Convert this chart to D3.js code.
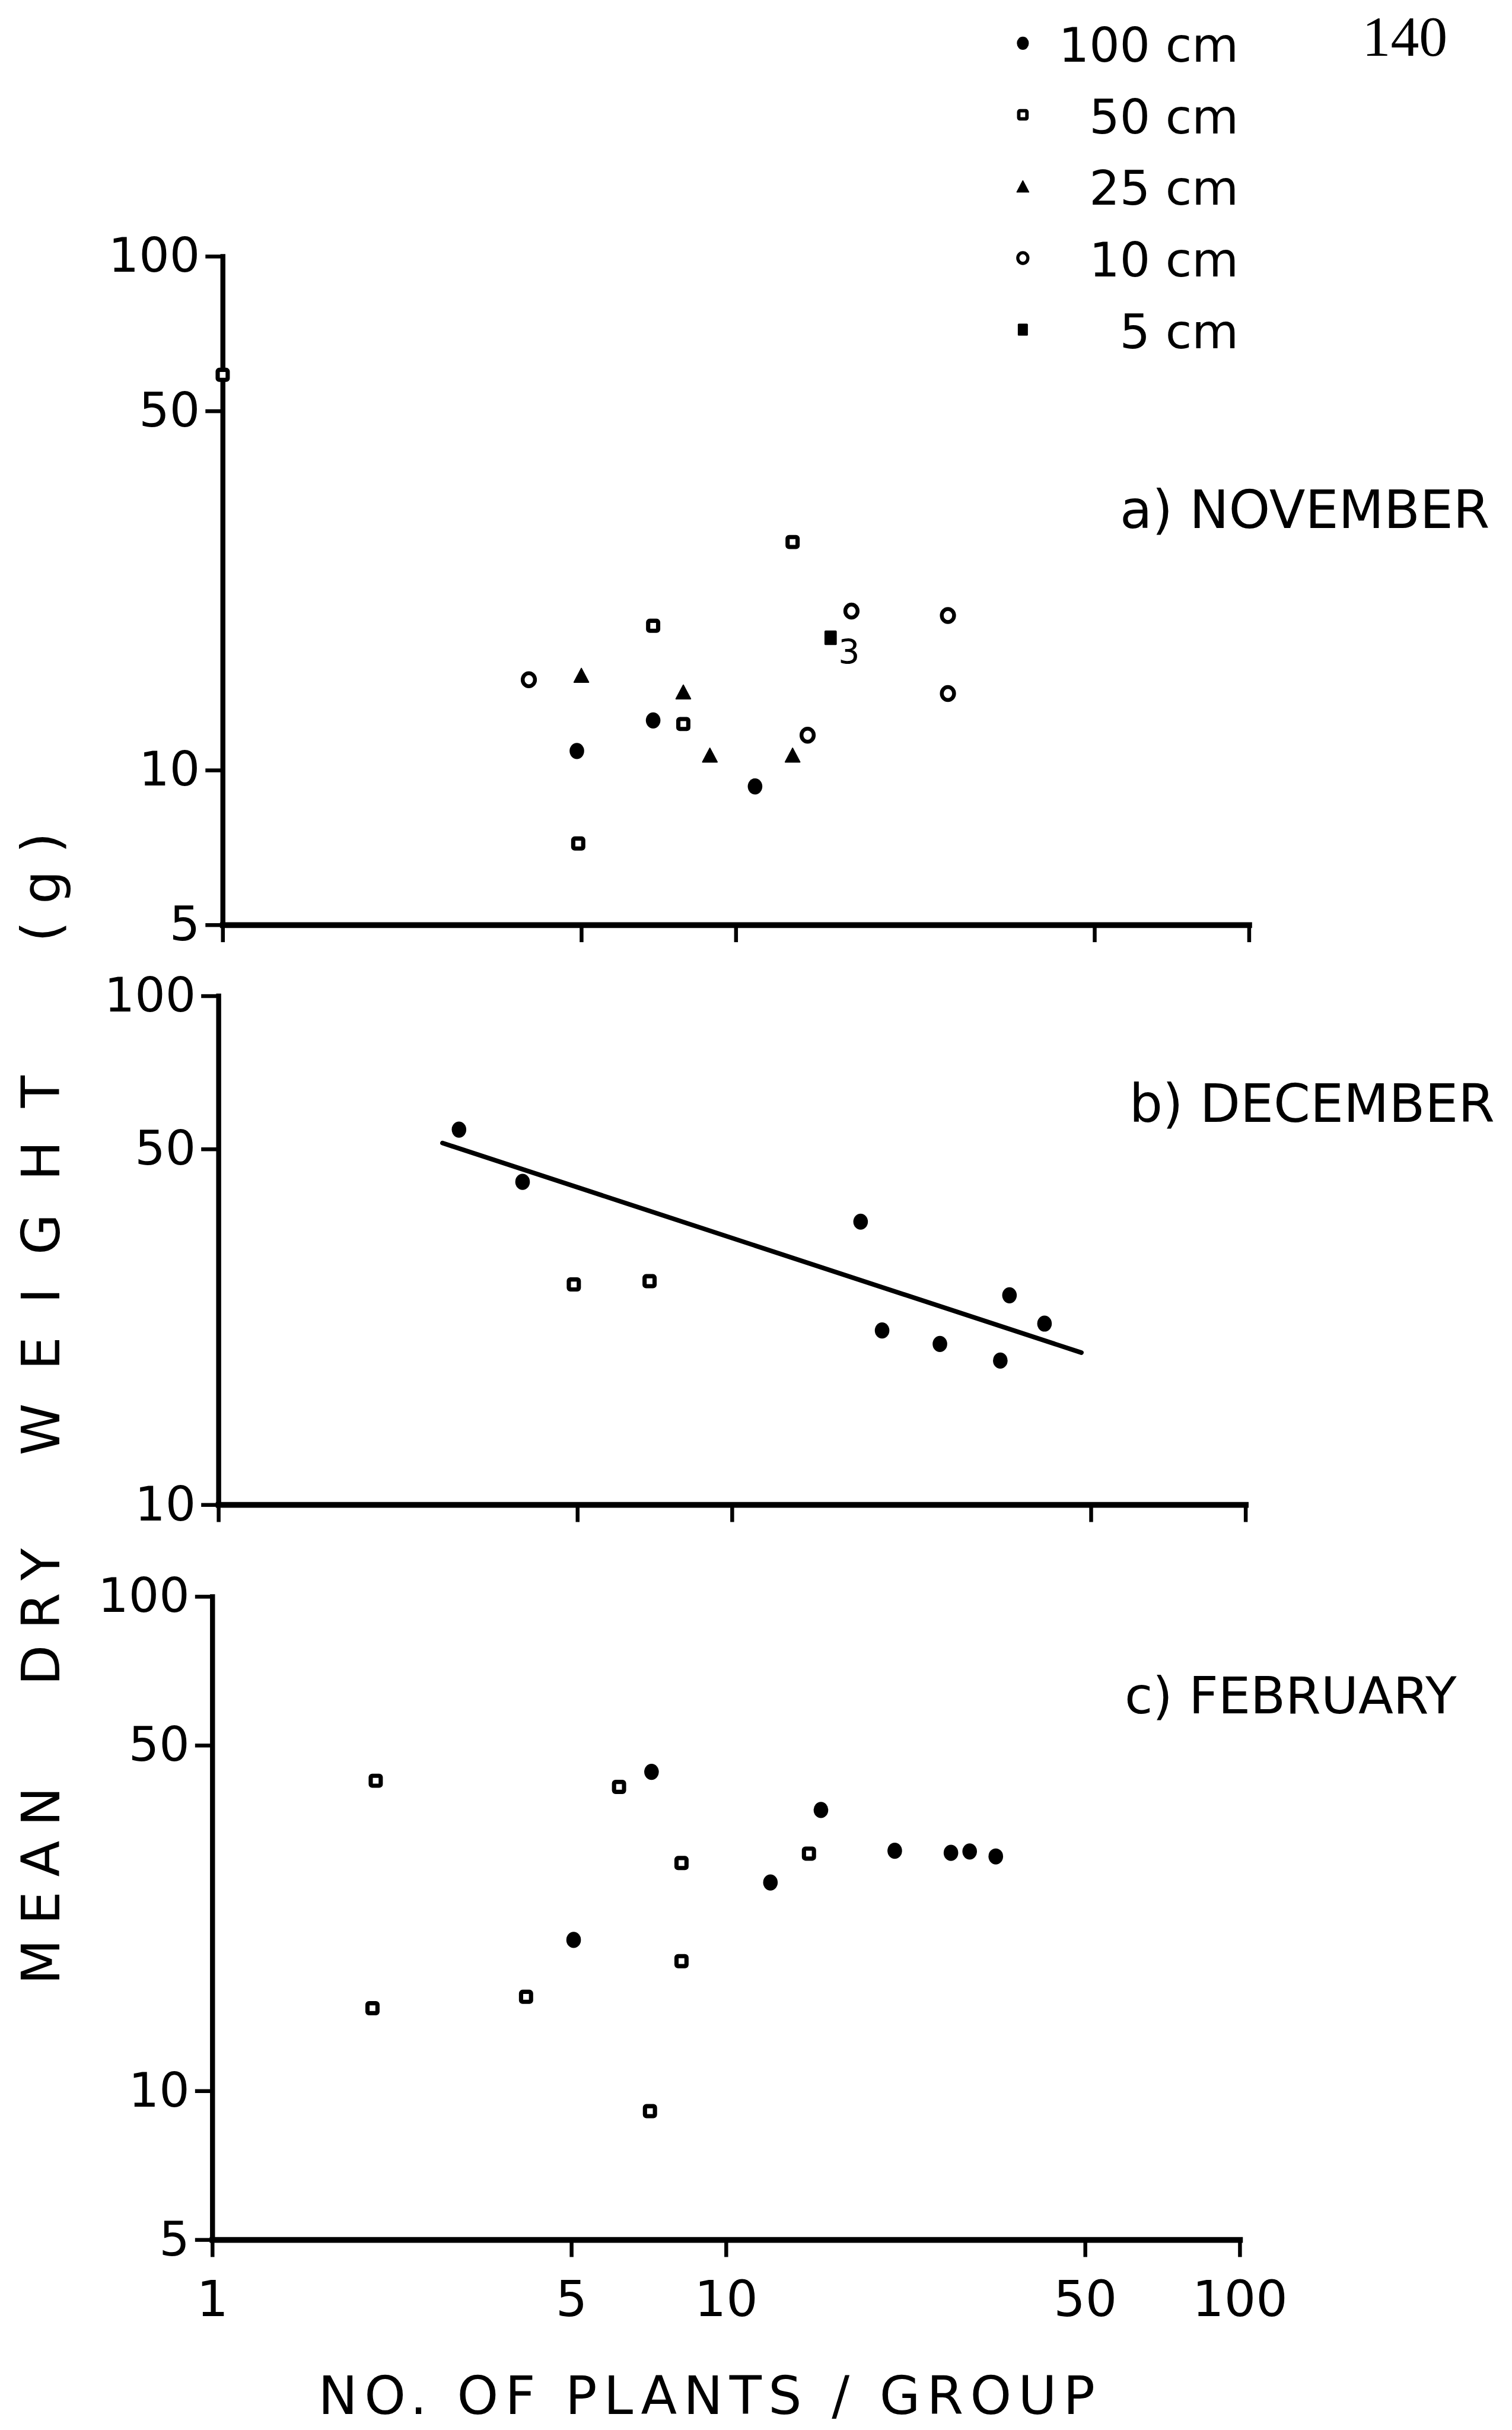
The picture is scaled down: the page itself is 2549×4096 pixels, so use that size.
<!DOCTYPE html>
<html>
<head>
<meta charset="utf-8">
<script src="https://cdn.jsdelivr.net/npm/d3@7"></script>
<style>
  html, body { margin: 0; padding: 0; background: #fff; }
  svg { display: block; }
</style>
</head>
<body>
<script>
// ---- Data: mean dry weight (g) against number of plants per group ----
const spacings = ["100 cm", "50 cm", "25 cm", "10 cm", "5 cm"];
const xTickValues = [1, 5, 10, 50, 100];
const yTickValuesAC = [5, 10, 50, 100];
const yTickValuesB = [10, 50, 100];

// a) November  [plants per group, mean dry weight]
const nov100cm = [[4.9, 10.9], [6.9, 12.5], [10.9, 9.3]];
const nov50cm  = [[1.0, 58.8], [4.93, 7.2], [6.9, 19.1], [7.9, 12.3], [12.9, 27.8]];
const nov25cm  = [[5.0, 15.3], [7.9, 14.2], [8.9, 10.7], [12.9, 10.7]];
const nov10cm  = [[3.95, 15.0], [13.8, 11.7], [16.8, 20.4], [25.9, 20.0], [25.9, 14.1]];
const nov5cm   = [[15.3, 18.1]];
const nov5cmCount = ["3"];

// b) December
const dec100cm = [[2.94, 54.6], [3.91, 43.1], [17.8, 36.0], [19.6, 22.0],
                  [25.4, 20.7], [33.3, 19.2], [34.7, 25.8], [40.6, 22.7]];
const dec50cm  = [[4.92, 27.1], [6.91, 27.5]];
const decFitLine = [[2.73, 51.4], [47.9, 19.9]];

// c) February
const feb100cm = [[5.05, 20.2], [7.16, 44.2], [12.2, 26.4], [15.3, 37.0],
                  [21.3, 30.6], [27.4, 30.3], [29.8, 30.5], [33.5, 29.8]];
const feb50cm  = [[2.08, 42.4], [2.05, 14.7], [4.08, 15.5], [6.19, 41.2],
                  [7.11, 9.1], [8.19, 28.9], [8.19, 18.3], [14.5, 30.2]];

const panelTitles = ["a) NOVEMBER", "b) DECEMBER", "c) FEBRUARY"];
const xTitle = "NO. OF PLANTS / GROUP";
const yTitleWords = ["MEAN", "DRY", "WEIGHT", "(g)"];
const pageNumber = "140";

// ---- Drawing ----
const W = 3938, H = 6327;
const FONT = "'DejaVu Sans', 'Liberation Sans', sans-serif";
const INK = "#000";

const svg = d3.select("body").append("svg")
  .attr("width", 2549).attr("height", 4096)
  .attr("viewBox", `0 0 ${W} ${H}`);

svg.append("rect").attr("width", W).attr("height", H).attr("fill", "#fff");

// marker shapes, keyed by row spacing
const markerType = {
  "100 cm": "filledCircle",
  "50 cm": "openSquare",
  "25 cm": "triangle",
  "10 cm": "openCircle",
  "5 cm": "filledSquare"
};

function drawMarker(g, type, cx, cy, k) {
  switch (type) {
    case "filledCircle":
      g.append("ellipse").attr("cx", cx).attr("cy", cy)
        .attr("rx", 19 * k).attr("ry", 21 * k).attr("fill", INK);
      break;
    case "openSquare": {
      const s = 26 * k;
      g.append("rect").attr("x", cx - s / 2).attr("y", cy - s / 2)
        .attr("width", s).attr("height", s).attr("rx", 4 * k)
        .attr("fill", "#fff").attr("stroke", INK).attr("stroke-width", 11 * k);
      break;
    }
    case "triangle": {
      const w = 19 * k, h = 18 * k;
      g.append("path")
        .attr("d", `M${cx},${cy - h}L${cx + w},${cy + h}L${cx - w},${cy + h}Z`)
        .attr("fill", INK).attr("stroke", INK).attr("stroke-width", 3 * k)
        .attr("stroke-linejoin", "round");
      break;
    }
    case "openCircle":
      g.append("ellipse").attr("cx", cx).attr("cy", cy)
        .attr("rx", 16 * k).attr("ry", 17 * k)
        .attr("fill", "#fff").attr("stroke", INK).attr("stroke-width", 10 * k);
      break;
    case "filledSquare":
      g.append("rect").attr("x", cx - 16 * k).attr("y", cy - 19 * k)
        .attr("width", 32 * k).attr("height", 38 * k).attr("rx", 3 * k)
        .attr("fill", INK);
      break;
  }
}

// panel layout (positions in the drawing's own units)
const panels = [
  { title: panelTitles[0], xr: [580, 3253], yDom: [5, 100], yr: [2408, 667],
    yTicks: yTickValuesAC, labelPos: [2917, 1374], labelSize: 137, showX: false,
    series: [
      { key: "50 cm", pts: nov50cm }, { key: "10 cm", pts: nov10cm },
      { key: "25 cm", pts: nov25cm }, { key: "100 cm", pts: nov100cm },
      { key: "5 cm", pts: nov5cm, counts: nov5cmCount }
    ] },
  { title: panelTitles[1], xr: [569, 3244], yDom: [10, 100], yr: [3918, 2593],
    yTicks: yTickValuesB, labelPos: [2941, 2921], labelSize: 137, showX: false,
    fit: decFitLine,
    series: [ { key: "50 cm", pts: dec50cm }, { key: "100 cm", pts: dec100cm } ] },
  { title: panelTitles[2], xr: [553, 3229], yDom: [5, 100], yr: [5832, 4157],
    yTicks: yTickValuesAC, labelPos: [2929, 4462], labelSize: 133, showX: true,
    series: [ { key: "50 cm", pts: feb50cm }, { key: "100 cm", pts: feb100cm } ] }
];

panels.forEach(p => {
  const x = d3.scaleLog().domain([1, 100]).range(p.xr);
  const y = d3.scaleLog().domain(p.yDom).range(p.yr);
  const g = svg.append("g");

  // x axis along the lowest weight
  const xAxis = d3.axisBottom(x).tickValues(xTickValues)
    .tickSize(45).tickSizeOuter(0).tickPadding(62)
    .tickFormat(p.showX ? d3.format("d") : () => "");
  const gx = g.append("g").attr("transform", `translate(0,${p.yr[0]})`).call(xAxis);
  gx.select(".domain").attr("stroke", INK).attr("stroke-width", 15).attr("stroke-linecap", "square");
  gx.selectAll(".tick line").attr("stroke", INK).attr("stroke-width", 10);
  gx.selectAll(".tick text").attr("fill", INK).attr("font-family", FONT).attr("font-size", 130);

  // y axis at one plant per group
  const yAxis = d3.axisLeft(y).tickValues(p.yTicks)
    .tickSize(45).tickSizeOuter(0).tickPadding(14)
    .tickFormat(d3.format("d"));
  const gy = g.append("g").attr("transform", `translate(${p.xr[0]},0)`).call(yAxis);
  gy.select(".domain").attr("stroke", INK).attr("stroke-width", 13).attr("stroke-linecap", "square");
  gy.selectAll(".tick line").attr("stroke", INK).attr("stroke-width", 10);
  gy.selectAll(".tick text").attr("fill", INK).attr("font-family", FONT).attr("font-size", 125);

  // fitted regression line
  if (p.fit) {
    g.append("path").datum(p.fit)
      .attr("d", d3.line().x(d => x(d[0])).y(d => y(d[1])))
      .attr("fill", "none").attr("stroke", INK).attr("stroke-width", 12)
      .attr("stroke-linecap", "round");
  }

  // points
  p.series.forEach(s => {
    s.pts.forEach((d, i) => {
      const cx = x(d[0]), cy = y(d[1]);
      drawMarker(g, markerType[s.key], cx, cy, 1);
      if (s.counts) {
        g.append("text").attr("x", cx + 20).attr("y", cy + 68)
          .attr("font-family", FONT).attr("font-size", 88).attr("fill", INK)
          .text(s.counts[i]);
      }
    });
  });

  // panel label
  g.append("text").attr("x", p.labelPos[0]).attr("y", p.labelPos[1])
    .attr("font-family", FONT).attr("font-size", p.labelSize).attr("fill", INK)
    .text(p.title);
});

// ---- Legend ----
const legendY = d3.scalePoint().domain(spacings).range([112, 858]);
const legend = svg.append("g");
spacings.forEach(sp => {
  const cy = legendY(sp);
  drawMarker(legend, markerType[sp], 2664, cy, 0.82);
  legend.append("text").attr("x", 3226).attr("y", cy + 48)
    .attr("text-anchor", "end").attr("font-family", FONT)
    .attr("font-size", 125).attr("fill", INK).text(sp);
});

// page number
svg.append("text").attr("x", 3548).attr("y", 145)
  .attr("font-family", "'Liberation Serif', 'DejaVu Serif', serif")
  .attr("font-size", 148).attr("fill", INK).text(pageNumber);

// ---- Axis titles ----
svg.append("text").attr("x", 829).attr("y", 6286)
  .attr("font-family", FONT).attr("font-size", 137).attr("fill", INK)
  .attr("textLength", 2023).attr("lengthAdjust", "spacing")
  .text(xTitle);

// vertical title, one word at a time (centre, ink length)
const yTitleLayout = [[4910, 515], [4210, 357], [3295, 989], [2310, 285]];
yTitleWords.forEach((w, i) => {
  const [cy, len] = yTitleLayout[i];
  svg.append("text")
    .attr("transform", `translate(155,${cy}) rotate(-90)`)
    .attr("text-anchor", "middle")
    .attr("font-family", FONT).attr("font-size", 137).attr("fill", INK)
    .attr("textLength", len).attr("lengthAdjust", "spacing")
    .text(w);
});
</script>
</body>
</html>
